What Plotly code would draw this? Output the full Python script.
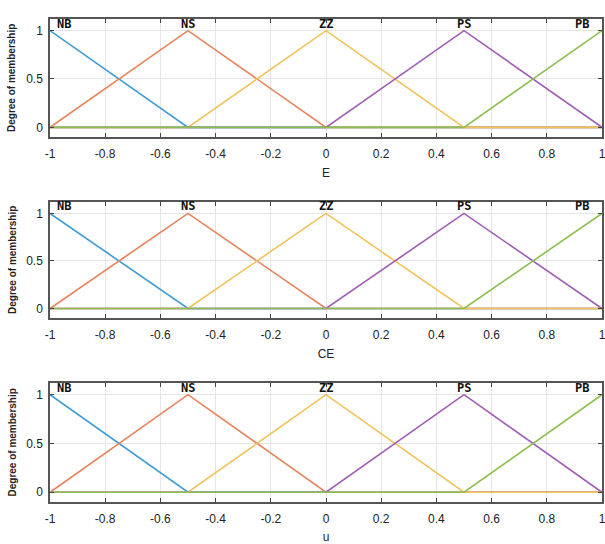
import plotly.graph_objects as go

x_points = [-1, -0.5, 0, 0.5, 1]
mf_names = ["NB", "NS", "ZZ", "PS", "PB"]
mf_values = {
    "NB": [1, 0, 0, 0, 0],
    "NS": [0, 1, 0, 0, 0],
    "ZZ": [0, 0, 1, 0, 0],
    "PS": [0, 0, 0, 1, 0],
    "PB": [0, 0, 0, 0, 1],
}
mf_peaks = [-1, -0.5, 0, 0.5, 1]
var_names = ["E", "CE", "u"]
x_ticks = [-1, -0.8, -0.6, -0.4, -0.2, 0, 0.2, 0.4, 0.6, 0.8, 1]
x_ticklabels = ["-1", "-0.8", "-0.6", "-0.4", "-0.2", "0", "0.2", "0.4", "0.6", "0.8", "1"]
y_ticks = [0, 0.5, 1]
y_ticklabels = ["0", "0.5", "1"]

colors = ["#3d9ad6", "#e8825a", "#f2c25a", "#a05cb3", "#8cbf4f"]

W, H = 605, 544
ML, MR = 50, 3
y_doms = [
    [1 - 137 / H, 1 - 19 / H],
    [1 - 318 / H, 1 - 202 / H],
    [1 - 502 / H, 1 - 383 / H],
]

FONT = "Liberation Sans"
fig = go.Figure()
annotations = []
for i, var in enumerate(var_names):
    ax = "" if i == 0 else str(i + 1)
    for j, name in enumerate(mf_names):
        fig.add_trace(go.Scatter(
            x=x_points, y=mf_values[name], mode="lines",
            line=dict(color=colors[j], width=1.6),
            xaxis="x" + ax, yaxis="y" + ax, showlegend=False, hoverinfo="skip"))
        xanchor = "center"
        xshift = 0
        if j == 0:
            xanchor = "left"; xshift = 5
        elif j == len(mf_names) - 1:
            xanchor = "right"; xshift = -11
        annotations.append(dict(
            x=mf_peaks[j], y=1, xref="x" + ax, yref="y" + ax, text="<b>" + name + "</b>",
            showarrow=False, xanchor=xanchor, yanchor="bottom", xshift=xshift, yshift=-2,
            font=dict(family="DejaVu Sans Mono", size=12, color="#111111")))
    # y-axis title as annotation
    annotations.append(dict(
        x=0, y=(y_doms[i][0] + y_doms[i][1]) / 2, xref="paper", yref="paper",
        text="<b>Degree of membership</b>", textangle=-90, showarrow=False,
        xanchor="center", yanchor="middle", xshift=-(ML - 12),
        font=dict(family=FONT, size=10, color="#222222")))
    fig.update_layout(**{
        "xaxis" + ax: dict(domain=[0, 1], anchor="y" + ax, range=[-1, 1],
                           tickvals=x_ticks, ticktext=x_ticklabels,
                           ticks="inside", ticklen=4, tickcolor="#444444",
                           ticklabelstandoff=5, ticklabeloverflow="allow",
                           showgrid=True, gridcolor="#e6e6e6", gridwidth=1,
                           zeroline=False, showline=True, linecolor="#555555", linewidth=1.5,
                           mirror="ticks", automargin=False,
                           tickfont=dict(family=FONT, size=12, color="#222222"),
                           title=dict(text=var, font=dict(family=FONT, size=12, color="#222222"), standoff=8)),
        "yaxis" + ax: dict(domain=y_doms[i], anchor="x" + ax, range=[-0.1, 1.12],
                           tickvals=y_ticks, ticktext=y_ticklabels,
                           ticks="inside", ticklen=4, tickcolor="#444444",
                           ticklabelstandoff=3,
                           showgrid=True, gridcolor="#e6e6e6", gridwidth=1,
                           zeroline=False, showline=True, linecolor="#555555", linewidth=1.5,
                           mirror="ticks", automargin=False,
                           tickfont=dict(family=FONT, size=12, color="#222222")),
    })

fig.update_layout(width=W, height=H, margin=dict(l=ML, r=MR, t=0, b=0, autoexpand=False),
                  paper_bgcolor="white", plot_bgcolor="white",
                  annotations=annotations)
fig.write_html("out.html", config={"displayModeBar": False},
               post_script="document.body.style.margin='0';document.body.style.overflow='hidden';")
